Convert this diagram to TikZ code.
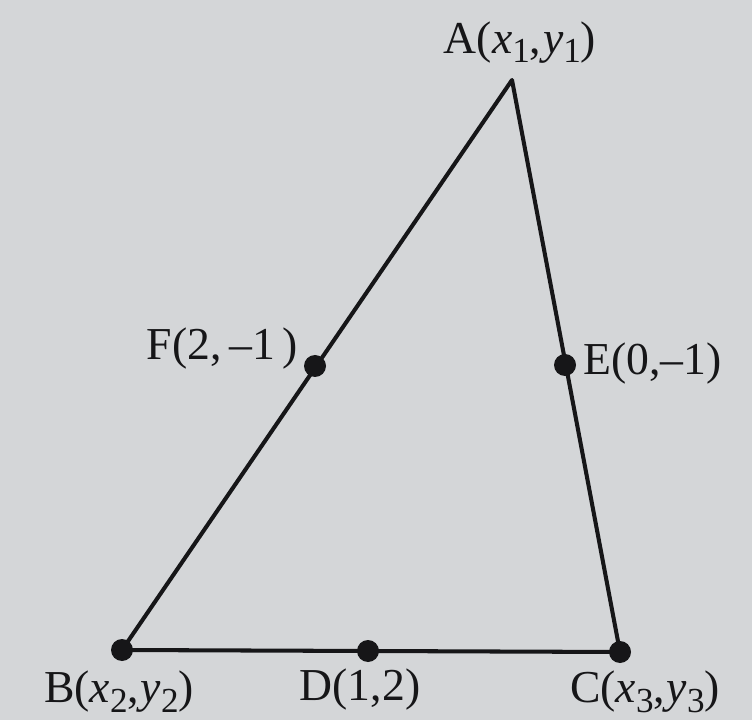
\documentclass[tikz,border=0pt]{standalone}
\usepackage{fontspec}
\setmainfont{Liberation Serif}
\usepackage{tikz}
\usetikzlibrary{positioning}
\definecolor{paper}{RGB}{212,214,216}
\definecolor{ink}{RGB}{22,22,24}
\tikzset{
  side/.style={draw=ink, line width=2.3pt, line join=round},
  pt/.style={circle, fill=ink, inner sep=0pt, minimum size=4.4mm},
  lbl/.style={font=\fontsize{26}{30}\selectfont, text=ink, inner sep=1pt}
}
\newcommand{\sbx}[1]{\raisebox{-0.45ex}{\fontsize{20}{22}\selectfont #1}}
\newcommand{\xy}[2]{(\textit{x}\sbx{#1},\kern1pt\textit{y}\sbx{#2})}

\begin{document}
\begin{tikzpicture}
\fill[paper] (0,0) rectangle (15.04,14.4);
\useasboundingbox (0,0) rectangle (15.04,14.4);

\coordinate (A) at (10.24,12.8);
\node[pt] (B) at (2.44,1.4) {};
\node[pt] (C) at (12.4,1.36) {};
\node[pt] (D) at (7.36,1.38) {};
\node[pt] (E) at (11.3,7.1) {};
\node[pt] (F) at (6.3,7.08) {};

\draw[side] (A) -- (B.center) -- (C.center) -- cycle;

\node[lbl] (la) at (10.4,13.55) {A\xy{1}{1}};
\node[lbl, anchor=east] (lf) at (6.0,7.42) {F(2,\,–1\,)};
\node[lbl, anchor=west] (le) at (11.62,7.12) {E(0,–1)};
\node[lbl] (lb) at (2.38,0.56) {B\xy{2}{2}};
\node[lbl] (ld) at (7.2,0.6) {D(1,2)};
\node[lbl] (lc) at (12.9,0.56) {C\xy{3}{3}};
\end{tikzpicture}
\end{document}
